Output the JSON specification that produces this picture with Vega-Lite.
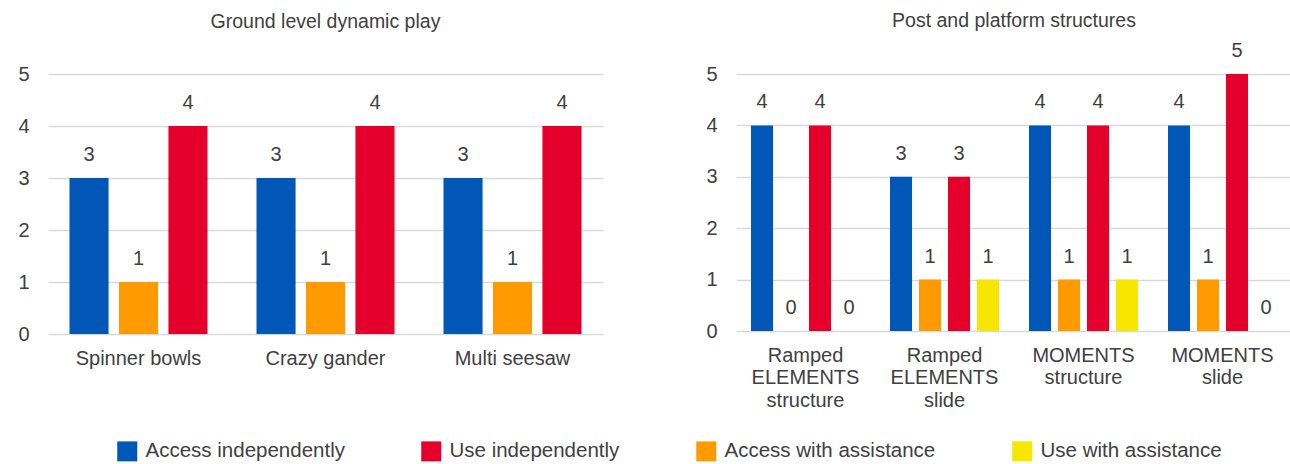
{
  "$schema": "https://vega.github.io/schema/vega-lite/v6.json",
  "background": "white",
  "padding": {"left": 17, "top": 10, "right": 0, "bottom": 0},
  "config": {
    "font": "Liberation Sans",
    "view": {"stroke": null},
    "concat": {"spacing": 102},
    "title": {"fontSize": 19.5, "fontWeight": "normal", "color": "#404040", "anchor": "middle"},
    "axisX": {"title": null, "labelAngle": 0, "domain": false, "ticks": false, "labelFontSize": 20, "labelColor": "#404040", "labelPadding": 14, "labelLineHeight": 22.5, "grid": false},
    "axisY": {"title": null, "domain": false, "ticks": false, "labelFontSize": 20, "labelColor": "#404040", "labelPadding": 19, "grid": true, "gridColor": "#d9d9d9", "gridWidth": 1.5, "values": [0, 1, 2, 3, 4, 5]},
    "legend": {"orient": "none", "legendX": 69, "legendY": 367, "direction": "horizontal", "title": null, "symbolType": "square", "symbolSize": 400, "symbolStrokeWidth": 0, "labelFontSize": 20.5, "labelLimit": 400, "labelColor": "#404040", "columnPadding": 76, "labelOffset": 8}
  },
  "datasets": {
    "ground": [
      {"item": "Spinner bowls", "series": "Access independently", "value": 3},
      {"item": "Spinner bowls", "series": "Access with assistance", "value": 1},
      {"item": "Spinner bowls", "series": "Use independently", "value": 4},
      {"item": "Crazy gander", "series": "Access independently", "value": 3},
      {"item": "Crazy gander", "series": "Access with assistance", "value": 1},
      {"item": "Crazy gander", "series": "Use independently", "value": 4},
      {"item": "Multi seesaw", "series": "Access independently", "value": 3},
      {"item": "Multi seesaw", "series": "Access with assistance", "value": 1},
      {"item": "Multi seesaw", "series": "Use independently", "value": 4}
    ],
    "post": [
      {"item": "Ramped ELEMENTS structure", "series": "Access independently", "value": 4},
      {"item": "Ramped ELEMENTS structure", "series": "Access with assistance", "value": 0},
      {"item": "Ramped ELEMENTS structure", "series": "Use independently", "value": 4},
      {"item": "Ramped ELEMENTS structure", "series": "Use with assistance", "value": 0},
      {"item": "Ramped ELEMENTS slide", "series": "Access independently", "value": 3},
      {"item": "Ramped ELEMENTS slide", "series": "Access with assistance", "value": 1},
      {"item": "Ramped ELEMENTS slide", "series": "Use independently", "value": 3},
      {"item": "Ramped ELEMENTS slide", "series": "Use with assistance", "value": 1},
      {"item": "MOMENTS structure", "series": "Access independently", "value": 4},
      {"item": "MOMENTS structure", "series": "Access with assistance", "value": 1},
      {"item": "MOMENTS structure", "series": "Use independently", "value": 4},
      {"item": "MOMENTS structure", "series": "Use with assistance", "value": 1},
      {"item": "MOMENTS slide", "series": "Access independently", "value": 4},
      {"item": "MOMENTS slide", "series": "Access with assistance", "value": 1},
      {"item": "MOMENTS slide", "series": "Use independently", "value": 5},
      {"item": "MOMENTS slide", "series": "Use with assistance", "value": 0}
    ]
  },
  "hconcat": [
    {
      "width": 555,
      "height": 260,
      "title": {"text": "Ground level dynamic play", "offset": 32},
      "data": {"name": "ground"},
      "encoding": {
        "x": {"field": "item", "type": "nominal", "sort": null, "scale": {"paddingInner": 0.262, "paddingOuter": 0.115}},
        "xOffset": {"field": "series", "type": "nominal", "scale": {"domain": ["Access independently", "Access with assistance", "Use independently"], "paddingInner": 0.21, "paddingOuter": 0}},
        "y": {"field": "value", "type": "quantitative", "scale": {"domain": [0, 5], "nice": false}}
      },
      "layer": [
        {
          "mark": {"type": "bar"},
          "encoding": {
            "color": {"field": "series", "type": "nominal", "scale": {"domain": ["Access independently", "Use independently", "Access with assistance", "Use with assistance"], "range": ["#0057B7", "#E4002B", "#FF9A00", "#F7E600"]}}
          }
        },
        {
          "mark": {"type": "text", "dy": -17, "baseline": "alphabetic", "fontSize": 20, "color": "#404040"},
          "encoding": {"text": {"field": "value", "type": "quantitative"}}
        }
      ]
    },
    {
      "width": 556,
      "height": 257,
      "title": {"text": "Post and platform structures", "offset": 10},
      "data": {"name": "post"},
      "encoding": {
        "x": {"field": "item", "type": "nominal", "sort": null, "scale": {"paddingInner": 0.216, "paddingOuter": 0.108}, "axis": {"labelExpr": "split(datum.label, ' ')"}},
        "xOffset": {"field": "series", "type": "nominal", "scale": {"domain": ["Access independently", "Access with assistance", "Use independently", "Use with assistance"], "paddingInner": 0.24, "paddingOuter": 0}},
        "y": {"field": "value", "type": "quantitative", "scale": {"domain": [0, 5], "nice": false}}
      },
      "layer": [
        {
          "mark": {"type": "bar"},
          "encoding": {
            "color": {"field": "series", "type": "nominal", "scale": {"domain": ["Access independently", "Use independently", "Access with assistance", "Use with assistance"], "range": ["#0057B7", "#E4002B", "#FF9A00", "#F7E600"]}}
          }
        },
        {
          "mark": {"type": "text", "dy": -17, "baseline": "alphabetic", "fontSize": 20, "color": "#404040"},
          "encoding": {"text": {"field": "value", "type": "quantitative"}}
        }
      ]
    }
  ],
  "resolve": {"scale": {"x": "independent", "y": "independent", "xOffset": "independent", "color": "shared"}}
}
